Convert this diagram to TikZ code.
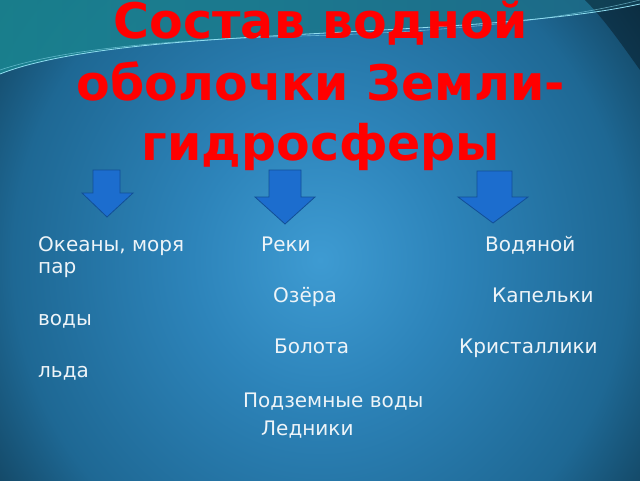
\documentclass[tikz,border=0pt]{standalone}
\usepackage{fontspec}
\setmainfont{DejaVu Sans}
\usepackage{xcolor}
\definecolor{deepsea}{HTML}{061A26}
\definecolor{darksea}{HTML}{0F3A52}
\definecolor{edgesea}{HTML}{1E6894}
\definecolor{bodysea}{HTML}{2D84BA}
\definecolor{midsea}{HTML}{3E9BD2}
\definecolor{tealband}{HTML}{1A8490}
\definecolor{tealdark}{HTML}{1D6A88}
\definecolor{foamline}{HTML}{8FDDF0}
\definecolor{arrowblue}{HTML}{1C6DCE}
\definecolor{arrowedge}{HTML}{124F96}
\definecolor{paletext}{HTML}{EEF4F8}

\pgfdeclareradialshading{seaglow}{\pgfpoint{0bp}{0bp}}{color(0bp)=(midsea); color(10bp)=(bodysea); color(24bp)=(edgesea); color(33bp)=(darksea); color(42bp)=(deepsea); color(50bp)=(deepsea)}

\tikzset{
  blockarrow/.style={fill=arrowblue, draw=arrowedge, line width=0.8pt, line join=miter},
  titletext/.style={anchor=base, inner sep=0pt, text=red, font=\bfseries\fontsize{49}{60}\selectfont},
  bodytext/.style={anchor=base west, inner sep=0pt, text=paletext, font=\fontsize{20}{24}\selectfont}
}

\begin{document}
\begin{tikzpicture}[x=1pt,y=1pt,yscale=-1]
        \useasboundingbox (0,0) rectangle (640,480);
        
        \begin{scope}
        \clip (0,0) rectangle (640,480);
        %Shape: Background [id:bg]
        \shade [shading=seaglow] (0,-80) rectangle (640,600);
        %Shape: Top band
        \shade [left color=tealband, right color=tealdark, opacity=0.9] (0,0) -- (640,0) -- (640,4) .. controls (520,30) and (300,30) .. (150,45) .. controls (80,52) and (30,62) .. (0,74) -- cycle ;
        %Shape: Top right corner
        \fill [deepsea, opacity=0.5] (585,0) -- (640,0) -- (640,70) .. controls (622,45) and (605,20) .. (585,0) -- cycle ;
        %Curve Lines: foam lines
        \draw [foamline, line width=0.8pt] (0,74) .. controls (30,62) and (80,52) .. (150,45) .. controls (300,30) and (520,30) .. (640,4) ;
        \draw [foamline, opacity=0.6, line width=0.6pt] (0,70) .. controls (60,50) and (160,40) .. (300,36) .. controls (450,32) and (560,20) .. (640,0) ;
        \end{scope}
        
        %Shape: Arrows
        \draw [blockarrow] (93,170) -- (120,170) -- (120,193) -- (133,193) -- (107,217) -- (82,193) -- (93,193) -- cycle ;
        \draw [blockarrow] (269,170) -- (301,170) -- (301,197) -- (315,197) -- (285,224) -- (255,197) -- (269,197) -- cycle ;
        \draw [blockarrow] (477,171) -- (512,171) -- (512,197) -- (528,197) -- (493,223) -- (458,197) -- (477,197) -- cycle ;
        
        % Title Nodes
        \node [titletext] (title1) at (321,38) {Состав водной};
        \node [titletext] (title2) at (321,100) {оболочки Земли-};
        \node [titletext] (title3) at (321,160) {гидросферы};
        
        % Text Nodes
        \node [bodytext] (oceans) at (38,251) {Океаны, моря};
        \node [bodytext] (rivers) at (261,251) {Реки};
        \node [bodytext] (vapour) at (485,251) {Водяной};
        \node [bodytext] (vapour2) at (38,273) {пар};
        \node [bodytext] (lakes) at (273,302) {Озёра};
        \node [bodytext] (drops) at (492,302) {Капельки};
        \node [bodytext] (drops2) at (38,325) {воды};
        \node [bodytext] (swamps) at (274,353) {Болота};
        \node [bodytext] (crystals) at (459,353) {Кристаллики};
        \node [bodytext] (crystals2) at (38,377) {льда};
        \node [bodytext] (ground) at (243,407) {Подземные воды};
        \node [bodytext] (glaciers) at (261,435) {Ледники};
        
\end{tikzpicture}
\end{document}
